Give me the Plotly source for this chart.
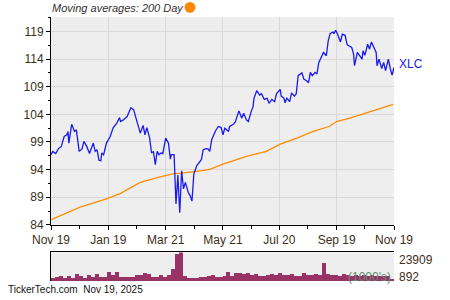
import pandas as pd
import plotly.graph_objects as go

START = pd.Timestamp("2024-11-19")
END = pd.Timestamp("2025-11-19")

# XLC price: day offsets from Nov 19, 2024 and closing values
price_days = [0,2,5,8,11,14,17,18,19,22,25,27,30,33,35,38,41,45,47,49,51,53,54,56,59,63,66,70,73,74,77,81,85,88,90,93,95,98,100,102,105,107,109,111,113,115,117,119,122,125,127,128,131,133,135,137,139,141,143,146,148,150,152,155,159,160,162,165,167,169,171,175,178,181,183,185,189,190,194,196,198,200,203,205,208,210,213,215,216,219,222,224,227,230,232,235,238,240,244,245,248,249,251,254,256,259,261,263,267,269,272,274,276,278,281,283,285,288,290,293,295,297,300,301,303,305,308,310,313,315,316,320,322,323,326,329,331,332,334,337,339,341,344,346,347,349,352,354,356,359,361,363,365]
price_vals = [96.7,97.3,96.9,97.8,98.2,100.0,100.3,100.9,98.8,102.2,100.9,101.2,97.3,97.75,99.1,98.2,96.9,98.8,97.3,97.6,95.7,95.6,97.0,96.7,98.8,100.0,101.5,102.4,103.4,102.7,103.0,103.6,105.2,104.8,103.6,101.5,100.6,102.0,100.3,101.6,99.7,97.0,97.3,94.9,97.3,96.7,97.0,96.9,99.7,98.8,95.9,96.7,96.7,87.8,93.0,86.2,93.8,90.5,91.7,89.9,89.3,88.3,93.2,94.7,95.5,95.8,97.6,97.8,97.75,97.3,99.4,101.0,101.8,101.6,100.3,101.5,100.9,101.8,102.2,102.6,103.6,104.6,103.3,104.2,103.0,102.7,104.5,105.4,106.9,108.3,107.5,107.75,106.7,106.9,106.0,106.7,106.3,107.75,108.5,107.3,106.9,106.1,106.9,106.3,107.9,107.3,107.75,111.0,111.5,110.4,110.1,109.7,111.6,111.0,111.6,111.3,113.4,114.7,115.2,114.6,117.3,118.6,118.9,118.6,119.2,118.5,117.1,118.5,118.3,116.7,116.5,116.1,114.9,112.8,115.2,114.5,114.0,115.5,114.7,116.7,115.8,117.1,116.1,115.2,112.8,114.0,112.3,113.4,111.9,114.0,112.3,111.1,112.5]

# 200-day moving average
ma_days = [0,31,59,73,95,116,132,137,159,169,183,208,229,244,263,279,296,304,318,329,339,364]
ma_vals = [84.95,87.2,88.7,89.6,91.7,92.7,93.3,93.3,93.75,94.05,95.0,96.4,97.3,98.6,99.8,100.9,101.8,102.7,103.3,103.9,104.5,105.8]

# Volume (thousands), evenly spaced bins across the year
volume = [2200,2800,3900,2200,3700,2300,5400,4200,2300,5000,3300,5400,3300,3300,7400,4400,
          7400,2600,2600,3300,3300,5000,4400,6100,5400,3300,3300,4400,2600,5000,9640,22250,
          23909,3900,2300,2300,2300,3300,3300,3600,4400,3300,3300,3600,7400,3900,6100,6100,
          5400,6100,4400,5400,3900,3900,4400,5400,4800,6100,4400,4400,5400,3900,3900,6100,
          4400,4400,5400,4800,15080,5400,4800,4800,3900,5200,4400,3900,4600,3900,4300,3600,
          4300,3900,3900,3600,3900,1300]
vol_labels = ["23909", "892"]

tick_dates = ["2024-11-19","2025-01-19","2025-03-21","2025-05-21","2025-07-20","2025-09-19","2025-11-19"]
tick_text = ["Nov 19","Jan 19","Mar 21","May 21","Jul 20","Sep 19","Nov 19"]
minor_dates = ["2024-12-19","2025-02-18","2025-04-21","2025-06-20","2025-08-19","2025-10-19"]
y_ticks = [84,89,94,99,104,109,114,119]

price_x = [START + pd.Timedelta(days=d) for d in price_days]
ma_x = [START + pd.Timedelta(days=d) for d in ma_days]
n = len(volume)
span = (END - START) / n
vol_x = [START + span * (i + 0.5) for i in range(n)]
width_ms = span.total_seconds() * 1000

TXT = "#3d3015"
FONT = "Liberation Sans, Arial, sans-serif"

fig = go.Figure()
fig.add_trace(go.Scatter(x=ma_x, y=ma_vals, mode="lines", line=dict(color="#ff8c00", width=1.3),
                         xaxis="x", yaxis="y", showlegend=False, hoverinfo="skip"))
fig.add_trace(go.Scatter(x=price_x, y=price_vals, mode="lines", line=dict(color="#1a1aee", width=1.3),
                         xaxis="x", yaxis="y", showlegend=False))
fig.add_trace(go.Bar(x=vol_x, y=volume, width=[width_ms] * n, marker=dict(color="#993366", line=dict(width=0)),
                     xaxis="x2", yaxis="y2", showlegend=False))

H_TOP, H_BOT = 17, 15
ph = 300 - H_TOP - H_BOT
def py(p):
    return (300 - H_BOT - p) / ph
pw = 343
def px(p):
    return (p - 51) / pw

fig.update_layout(
    width=450, height=300,
    margin=dict(l=51, r=56, t=H_TOP, b=H_BOT, pad=0),
    paper_bgcolor="white", plot_bgcolor="#eeeeee",
    font=dict(family=FONT, size=12, color=TXT),
    bargap=0,
    xaxis=dict(domain=[0, 1], anchor="y", type="date", range=[START, END],
               tickvals=tick_dates, ticktext=tick_text, ticks="outside", ticklen=4,
               tickcolor="black", showline=True, linecolor="black", linewidth=1,
               showgrid=True, gridcolor="#d9d9d9", gridwidth=1, zeroline=False,
               tickfont=dict(size=12, color=TXT),
               minor=dict(tickvals=minor_dates, ticks="outside", ticklen=3, tickcolor="black", showgrid=False)),
    yaxis=dict(domain=[py(228), 1], anchor="x", range=[84, 121.62], tickvals=y_ticks,
               ticks="outside", ticklen=4, tickcolor="black", showline=True, linecolor="black",
               linewidth=1, showgrid=True, gridcolor="#d9d9d9", zeroline=False,
               tickfont=dict(size=12, color=TXT),
               minor=dict(dtick=2.5, tick0=84, ticks="outside", ticklen=2, tickcolor="black", showgrid=False)),
    xaxis2=dict(domain=[0, 1], anchor="y2", matches="x", side="top", showticklabels=False,
                ticks="", showline=True, linecolor="black", linewidth=1, showgrid=False, zeroline=False),
    yaxis2=dict(domain=[0, py(256)], anchor="x2", range=[0, 23909], showticklabels=False, ticks="",
                showline=True, linecolor="black", linewidth=1, showgrid=False, zeroline=False),
)

annotations = [
    dict(text="<i>Moving averages: 200 Day</i>", xref="paper", yref="paper", x=px(50), y=py(7.5),
         xanchor="left", yanchor="middle", showarrow=False, font=dict(size=11, color="#333333")),
    dict(text="XLC", xref="x", yref="y", x=price_x[-1], y=price_vals[-1], xanchor="left",
         yanchor="middle", xshift=3, yshift=3, showarrow=False, font=dict(size=12, color="#1a1aee")),
    dict(text=vol_labels[0], xref="paper", yref="paper", x=px(397), y=py(263.5), xanchor="left",
         yanchor="middle", showarrow=False, font=dict(size=12, color=TXT)),
    dict(text=vol_labels[1], xref="paper", yref="paper", x=px(397), y=py(281), xanchor="left",
         yanchor="middle", showarrow=False, font=dict(size=12, color=TXT)),
    dict(text="(1000's)", xref="paper", yref="paper", x=px(393), y=py(280.5), xanchor="right",
         yanchor="middle", showarrow=False, font=dict(size=12, color="#5f8f6f")),
    dict(text="TickerTech.com&nbsp;&nbsp;Nov 19, 2025", xref="paper", yref="paper", x=px(6), y=py(293.5),
         xanchor="left", yanchor="middle", showarrow=False, font=dict(size=10, color="#111111")),
]
fig.update_layout(annotations=annotations)
fig.add_shape(type="circle", xref="paper", yref="paper", x0=px(184.5), x1=px(195.5), y0=py(12.7), y1=py(1.7),
              fillcolor="#ff8800", line=dict(color="#ff8800", width=0))

fig.write_html("out.html")
